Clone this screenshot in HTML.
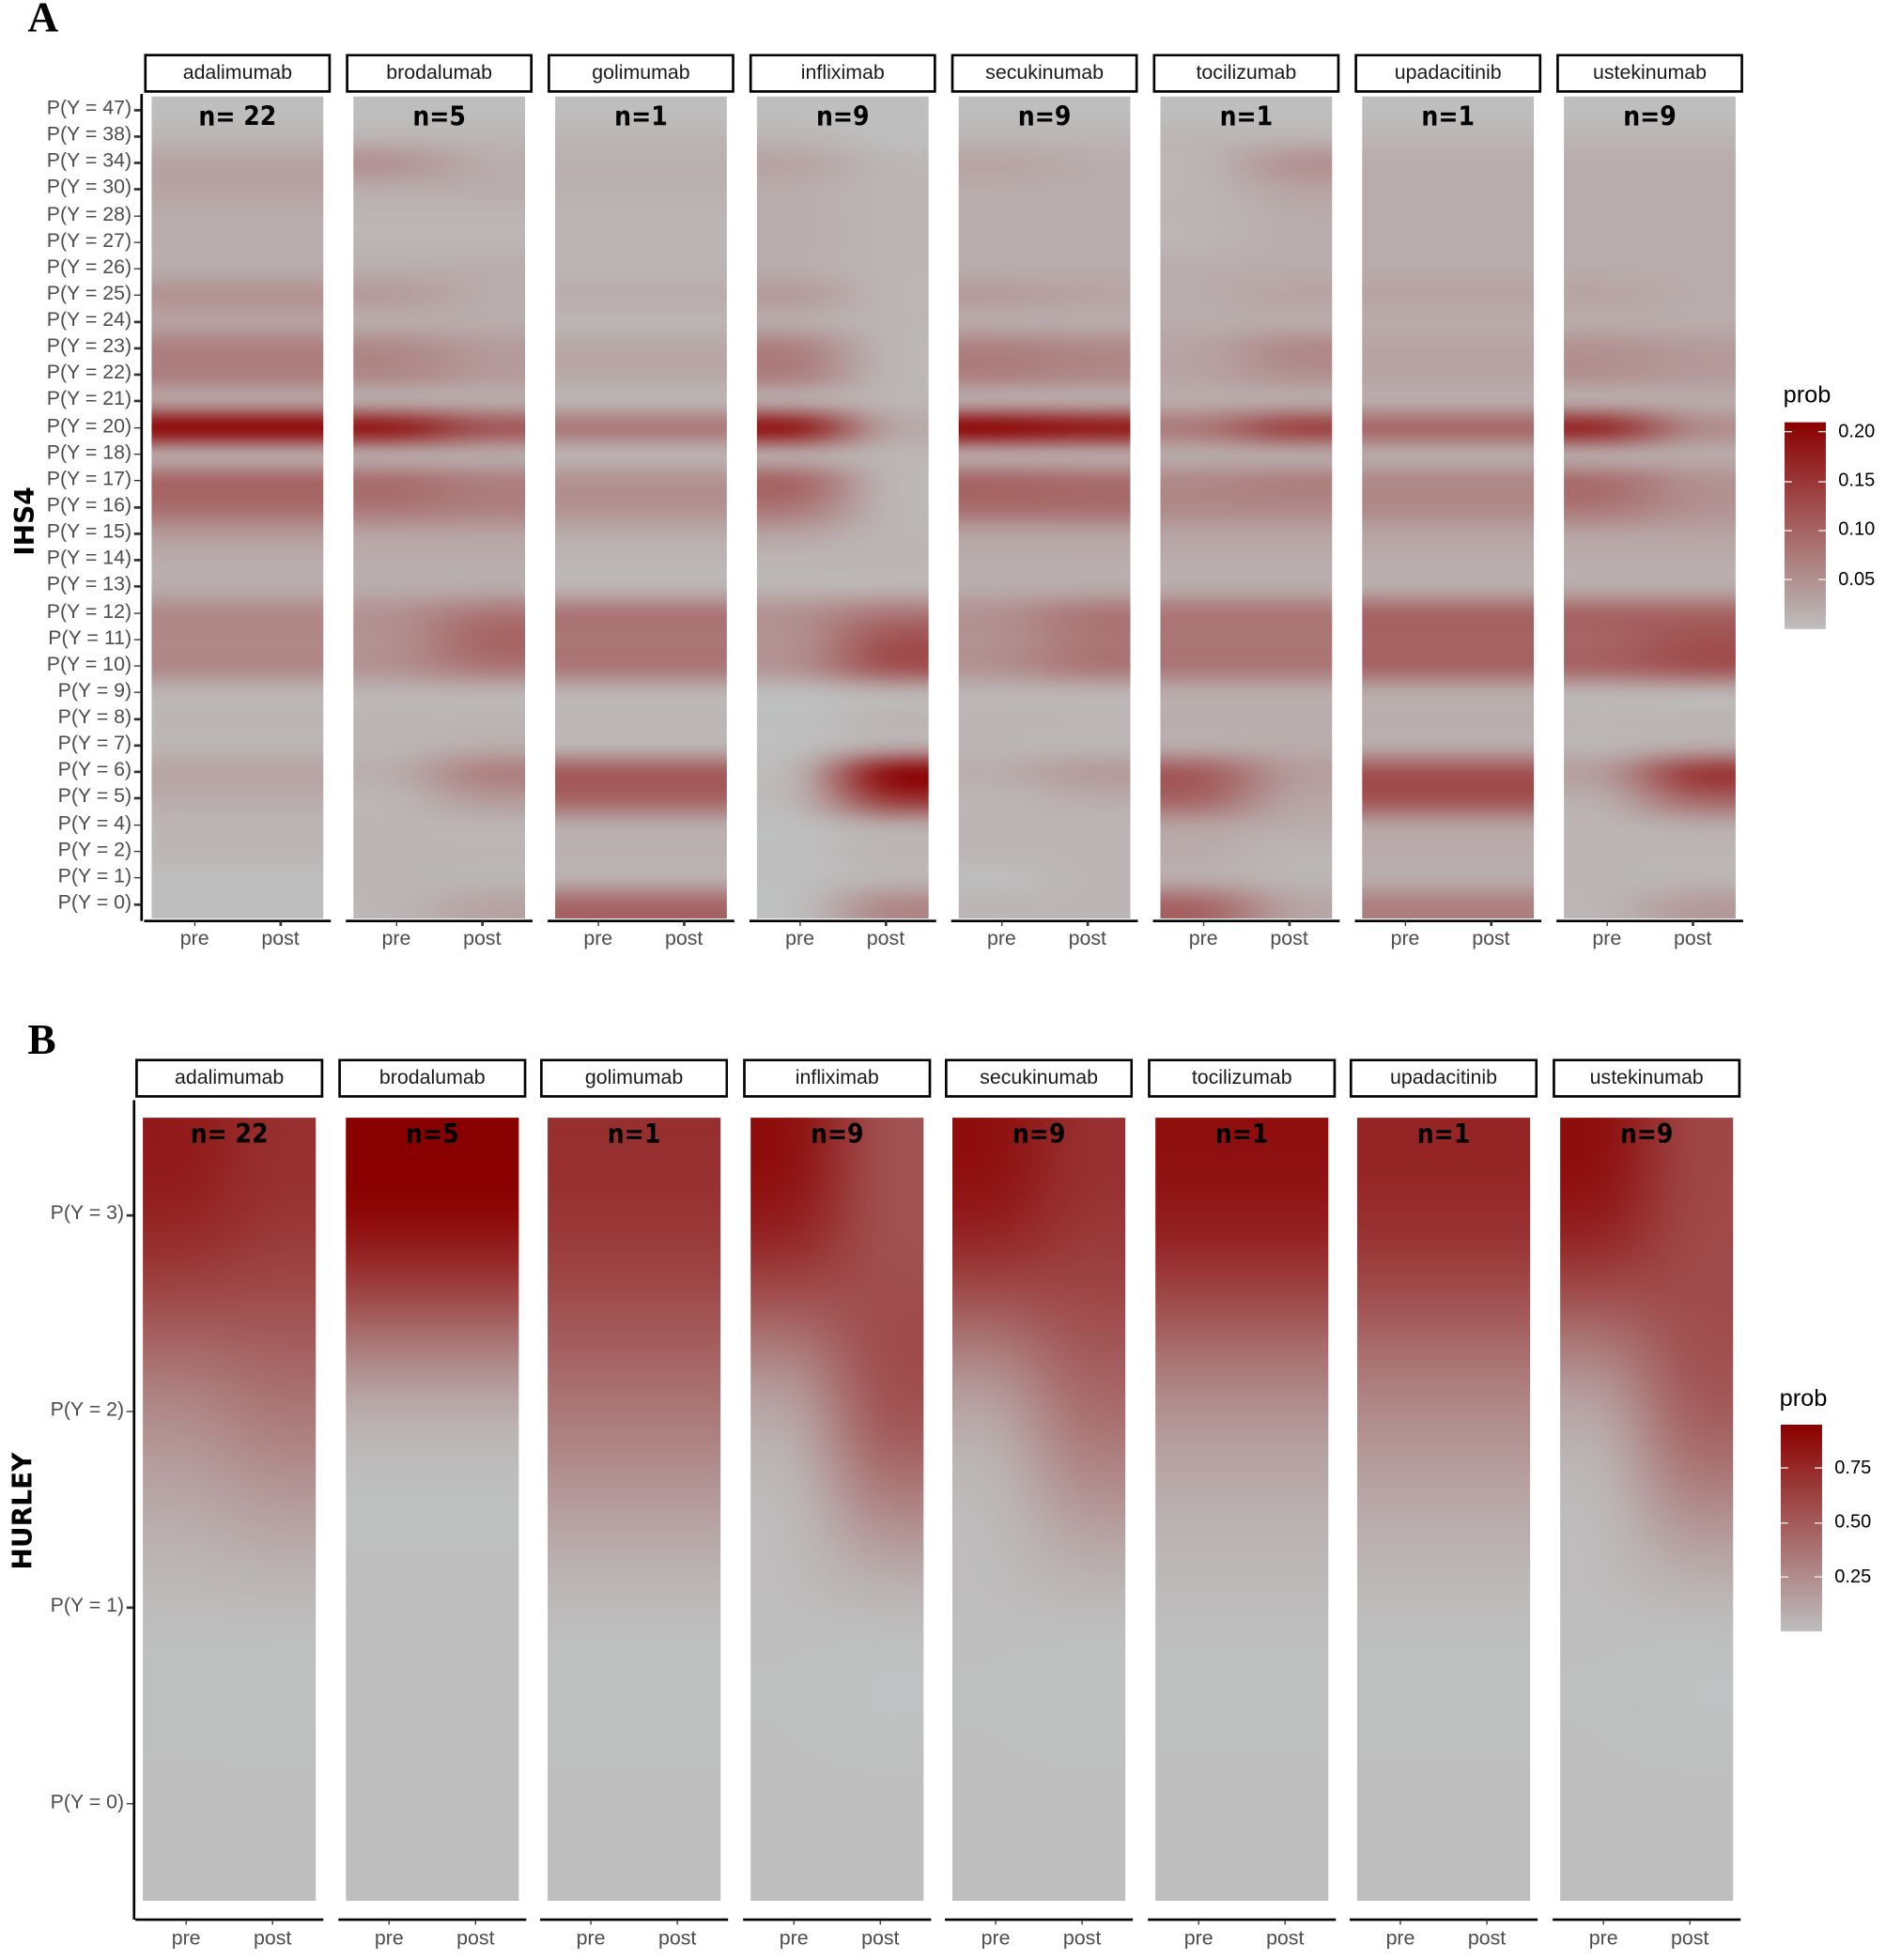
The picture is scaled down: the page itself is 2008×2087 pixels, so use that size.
<!DOCTYPE html>
<html><head><meta charset="utf-8">
<style>
html,body{margin:0;padding:0;background:#fff;}
body{width:2008px;height:2086px;overflow:hidden;position:relative;}
#root{position:absolute;left:0;top:0;width:1505px;height:1564px;transform:scale(1.33422);transform-origin:0 0;font-family:"Liberation Sans",sans-serif;}
.abs{position:absolute;}
.strip{position:absolute;border:2px solid #000;box-sizing:border-box;background:#fff;text-align:center;font-size:16px;color:#1a1a1a;}
.ylab{position:absolute;font-size:16px;color:#4d4d4d;text-align:right;width:100px;white-space:nowrap;}
.xlab{position:absolute;font-size:16px;color:#4d4d4d;width:60px;text-align:center;}
.tick{position:absolute;background:#333;}
.nlab{position:absolute;font-family:"Liberation Sans Narrow","DejaVu Sans Condensed","Liberation Sans",sans-serif;font-weight:bold;font-size:21px;color:#000;text-align:center;}
canvas{position:absolute;}
</style></head>
<body>
<div id="root">
  <div class="abs" style="left:22px;top:-4px;font-family:'Liberation Serif',serif;font-weight:bold;font-size:34px;">A</div>
  <div class="abs" style="left:22px;top:812px;font-family:'Liberation Serif',serif;font-weight:bold;font-size:34px;">B</div>
  <div class="abs" style="left:-10px;top:404px;width:60px;text-align:center;transform:rotate(-90deg);font-weight:bold;font-size:21px;font-family:'DejaVu Sans','Liberation Sans',sans-serif;">IHS4</div>
  <div class="abs" style="left:-32px;top:1194px;width:100px;text-align:center;transform:rotate(-90deg);font-weight:bold;font-size:21px;font-family:'DejaVu Sans','Liberation Sans',sans-serif;">HURLEY</div>
</div>
<script>
const drugs = ["adalimumab","brodalumab","golimumab","infliximab","secukinumab","tocilizumab","upadacitinib","ustekinumab"];
const nLabelsA = ["n= 22","n=5","n=1","n=9","n=9","n=1","n=1","n=9"];
const nLabelsB = ["n= 22","n=5","n=1","n=9","n=9","n=1","n=1","n=9"];
const timepoints = ["pre","post"];
const ihsLevels = [47,38,34,30,28,27,26,25,24,23,22,21,20,18,17,16,15,14,13,12,11,10,9,8,7,6,5,4,2,1,0];
const ihsPre = [
 [0,.01,.03,.03,.02,.02,.02,.05,.03,.07,.07,.03,.21,.02,.1,.09,.04,.02,.02,.06,.06,.06,.01,.01,.01,.03,.02,.01,.01,0,0],
 [0,.01,.05,.02,.01,.01,.02,.04,.02,.06,.06,.02,.19,.02,.09,.08,.03,.02,.02,.05,.05,.05,.01,.01,.01,.02,.01,.01,.01,.01,.01],
 [0,.01,.015,.015,.01,.01,.01,.02,.01,.025,.025,.01,.08,.01,.05,.05,.02,.01,.01,.08,.08,.08,.01,.01,.01,.11,.1,.02,.015,.015,.1],
 [0,.01,.03,.02,.02,.02,.02,.04,.02,.07,.07,.02,.19,.02,.1,.08,.03,.01,.01,.05,.05,.05,0,0,0,.01,.01,0,0,0,0],
 [0,.01,.03,.02,.02,.02,.02,.04,.02,.07,.07,.02,.21,.02,.1,.09,.03,.02,.02,.05,.05,.05,.01,.01,.01,.02,.01,.01,.01,0,.01],
 [0,.01,.01,.01,.01,.01,.02,.02,.02,.03,.03,.02,.08,.02,.06,.06,.03,.02,.02,.08,.08,.08,.02,.02,.02,.11,.1,.03,.02,.02,.1],
 [0,.01,.02,.02,.02,.02,.02,.03,.02,.03,.03,.02,.1,.02,.06,.06,.03,.02,.02,.1,.1,.1,.02,.02,.02,.12,.12,.03,.02,.02,.07],
 [0,.01,.02,.02,.02,.02,.02,.03,.02,.05,.05,.02,.17,.02,.09,.08,.03,.02,.02,.1,.1,.1,.01,.01,.01,.04,.02,.01,.01,.01,.01]
];
const ihsPost = [
 [0,.01,.03,.03,.02,.02,.02,.05,.03,.07,.07,.03,.21,.02,.1,.09,.04,.02,.02,.06,.06,.06,.01,.01,.01,.03,.02,.01,.01,0,0],
 [0,.01,.02,.02,.01,.01,.02,.02,.02,.04,.04,.02,.12,.02,.07,.07,.03,.02,.02,.08,.1,.08,.01,.01,.02,.07,.04,.01,.01,.01,.03],
 [0,.01,.015,.015,.01,.01,.01,.02,.01,.025,.025,.01,.08,.01,.05,.05,.02,.01,.01,.08,.08,.08,.01,.01,.01,.11,.1,.02,.015,.015,.1],
 [0,0,.01,.01,.01,.01,.01,.01,.01,.01,.01,.01,.03,.01,.01,.01,.01,.01,.01,.08,.12,.12,.01,.01,.02,.2,.15,.02,.01,.01,.06],
 [0,.01,.02,.02,.02,.02,.02,.03,.02,.06,.06,.02,.19,.02,.09,.09,.03,.02,.02,.08,.08,.08,.01,.01,.01,.04,.02,.01,.01,.01,.01],
 [0,.01,.05,.03,.02,.02,.02,.03,.02,.06,.05,.02,.14,.02,.07,.06,.03,.02,.02,.08,.08,.08,.02,.02,.02,.04,.03,.02,.01,.01,.03],
 [0,.01,.02,.02,.02,.02,.02,.03,.02,.03,.03,.02,.1,.02,.06,.06,.03,.02,.02,.1,.1,.1,.02,.02,.02,.12,.12,.03,.02,.02,.07],
 [0,.01,.02,.02,.02,.02,.02,.02,.02,.04,.04,.02,.06,.02,.05,.05,.03,.02,.02,.1,.12,.12,.01,.01,.02,.15,.1,.02,.01,.01,.04]
];
const hurleyLevels = [3,2,1,0];
const hurleyPre = [[.8,.25,0,0],[.95,.05,0,0],[.7,.35,0,0],[.85,.1,0,0],[.85,.1,0,0],[.85,.2,0,0],[.75,.25,0,0],[.85,.1,0,0]];
const hurleyPost = [[.7,.35,0,0],[.95,.05,0,0],[.7,.35,0,0],[.55,.55,0,0],[.7,.4,0,0],[.85,.2,0,0],[.75,.25,0,0],[.6,.5,0,0]];
const legendTicksA = [0.05,0.10,0.15,0.20];
const legendTicksB = [0.25,0.50,0.75];

const root = document.getElementById('root');
function color(t){t=Math.max(0,Math.min(1,t));return [Math.round(190-51*t),Math.round(190*(1-t)),Math.round(190*(1-t))];}
function add(tag,cls,style,text){const e=document.createElement(tag);if(cls)e.className=cls;e.style.cssText=style;if(text!==undefined)e.textContent=text;root.appendChild(e);return e;}

function drawSection(cfg){
  const {stripX,stripW,stripY,tileTop,tileBot,axisX,axisTop,axisBot,levels,levelY,pre,post,vmax,nLabels,nTop,xlabY,prefix} = cfg;
  let ax=add('div','tick',`left:${axisX}px;top:${axisTop}px;width:2px;height:${axisBot-axisTop}px;background:#000;`);
  
  
  levels.forEach((lv,i)=>{
    const y=levelY(i);
    let t=add('div','tick',`left:${axisX-5}px;top:${y-1}px;width:5px;height:1.5px;`);
    
    
    let l=add('div','ylab',`left:${axisX-107}px;top:${y-10}px;`,`P(Y = ${lv})`);
    
    
  });
  drugs.forEach((d,k)=>{
    const sx=stripX[k];
    let s=add('div','strip',`left:${sx}px;top:${stripY}px;width:${stripW}px;height:31px;line-height:27px;`,d);
    
    
    const tx=sx+6, tw=stripW-12, th=tileBot-tileTop;
    const small=document.createElement('canvas');small.width=2;small.height=levels.length;
    const sc=small.getContext('2d');const img=sc.createImageData(2,levels.length);
    for(let r=0;r<levels.length;r++){[pre[k][r],post[k][r]].forEach((v,c)=>{const col=color(v/vmax);const o=(r*2+c)*4;img.data[o]=col[0];img.data[o+1]=col[1];img.data[o+2]=col[2];img.data[o+3]=255;});}
    sc.putImageData(img,0,0);
    const cv=document.createElement('canvas');cv.width=Math.round(tw*2);cv.height=Math.round(th*2);
    cv.style.cssText=`left:${tx}px;top:${tileTop}px;width:${tw}px;height:${th}px;`;
    
    
    const ctx=cv.getContext('2d');ctx.imageSmoothingEnabled=true;ctx.imageSmoothingQuality='high';
    ctx.drawImage(small,0,0,2,levels.length,0,0,cv.width,cv.height);
    root.appendChild(cv);
    let n=add('div','nlab',`left:${tx}px;top:${nTop}px;width:${tw}px;`,nLabels[k]);
    
    
    let b=add('div','tick',`left:${sx}px;top:${axisBot-1}px;width:${stripW}px;height:2px;background:#000;`);
    
    
    timepoints.forEach((tp,j)=>{
      const x=tx+tw*(j*2+1)/4;
      let t=add('div','tick',`left:${x-0.75}px;top:${axisBot}px;width:1.5px;height:4px;`);
      
      
      let l=add('div','xlab',`left:${x-30}px;top:${xlabY}px;`,tp);
      
      
    });
  });
}

drawSection({prefix:'ihs4',stripX:[115,276,437,598,759,920,1081,1242],stripW:149,stripY:43,tileTop:77,tileBot:733,
  axisX:112,axisTop:75,axisBot:735,levels:ihsLevels,levelY:i=>88+i*(722-88)/30,pre:ihsPre,post:ihsPost,vmax:0.21,
  nLabels:nLabelsA,nTop:81,xlabY:741,});
drawSection({prefix:'hurley',stripX:[108,270,431,593,754,916,1077,1239],stripW:150,stripY:845,tileTop:892,tileBot:1517,
  axisX:106,axisTop:878,axisBot:1532,levels:hurleyLevels,levelY:i=>970+i*156.5,pre:hurleyPre,post:hurleyPost,vmax:0.95,
  nLabels:nLabelsB,nTop:893,xlabY:1539});

function legend(prefix,x,top,bot,vmax,ticks,titleY){
  let t=add('div','abs',`left:${x-1}px;top:${titleY}px;font-size:19px;color:#000;`,'prob');
  
  
  const c0=color(0),c1=color(1),cm=color(0.5);
  let bar=add('div','abs',`left:${x}px;top:${top}px;width:33px;height:${bot-top}px;background:linear-gradient(to top,rgb(${c0}),rgb(${cm}),rgb(${c1}));`);
  
  
  ticks.forEach(v=>{
    const y=bot-(bot-top)*v/vmax;
    let a=add('div','tick',`left:${x}px;top:${y-0.5}px;width:6px;height:1px;background:#eee;`);
    
    
    let b=add('div','tick',`left:${x+27}px;top:${y-0.5}px;width:6px;height:1px;background:#eee;`);
    
    
    let l=add('div','abs',`left:${x+43}px;top:${y-9}px;font-size:15px;color:#000;`,v.toFixed(2));
    
    
  });
}
legend('ihs4',1424,337,502,0.21,legendTicksA,305);
legend('hurley',1421,1137,1302,0.95,legendTicksB,1106);
</script>
</body></html>
